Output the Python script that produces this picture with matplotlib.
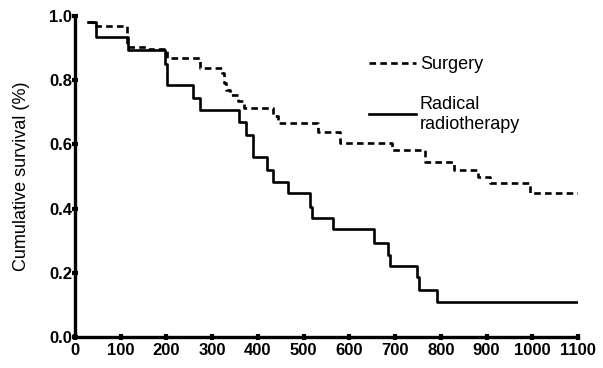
import matplotlib
matplotlib.use("Agg")
import matplotlib.pyplot as plt

# Kaplan-Meier style step data
surg_t = [28, 40, 114, 160, 201, 273, 322, 326, 330, 340, 356, 370, 434, 444, 532, 580, 693, 766, 828, 882, 908, 996, 1100]
surg_s = [0.98, 0.969, 0.905, 0.897, 0.87, 0.838, 0.822, 0.79, 0.77, 0.754, 0.735, 0.712, 0.69, 0.666, 0.64, 0.605,
          0.583, 0.545, 0.52, 0.50, 0.48, 0.449, 0.449]

radio_t = [28, 45, 116, 197, 201, 258, 273, 359, 375, 390, 420, 434, 466, 515, 518, 565, 654, 685, 688, 749, 752, 792, 1100]
radio_s = [0.98, 0.935, 0.894, 0.85, 0.785, 0.745, 0.707, 0.67, 0.63, 0.56, 0.52, 0.483, 0.448, 0.405, 0.37, 0.336,
           0.293, 0.255, 0.221, 0.187, 0.146, 0.109, 0.109]

xticks = list(range(0, 1101, 100))
yticks = [0.0, 0.2, 0.4, 0.6, 0.8, 1.0]

plt.rcParams['font.family'] = ['Liberation Sans', 'DejaVu Sans']

fig = plt.figure(figsize=(6.03, 3.68), dpi=100)
ax = fig.add_axes([0.1244, 0.0842, 0.8341, 0.8723])

ax.step(surg_t, surg_s, where='post', color='black', lw=1.9, ls=(0, (2.5, 1.6)), label='Surgery')
ax.step(radio_t, radio_s, where='post', color='black', lw=1.9, label='Radical\nradiotherapy')

ax.set_xlim(0, 1100)
ax.set_ylim(0, 1.0)
ax.set_xticks(xticks)
ax.set_yticks(yticks)
ax.set_yticklabels([f'{v:.1f}' for v in yticks])

for s in ['top', 'right']:
    ax.spines[s].set_visible(False)
for s in ['left', 'bottom']:
    ax.spines[s].set_linewidth(2.4)

ax.tick_params(direction='inout', length=4, width=3, labelsize=12, pad=2)
for lab in ax.get_xticklabels() + ax.get_yticklabels():
    lab.set_fontweight('bold')
ax.tick_params(axis='y', pad=0)
ax.set_ylabel('Cumulative survival (%)', fontsize=13, labelpad=14)

leg = ax.legend(loc='upper left', bbox_to_anchor=(0.553, 0.925), frameon=False, fontsize=13,
                handlelength=2.6, handletextpad=0.2, labelspacing=1.25)

fig.savefig('out.png', dpi=100)
